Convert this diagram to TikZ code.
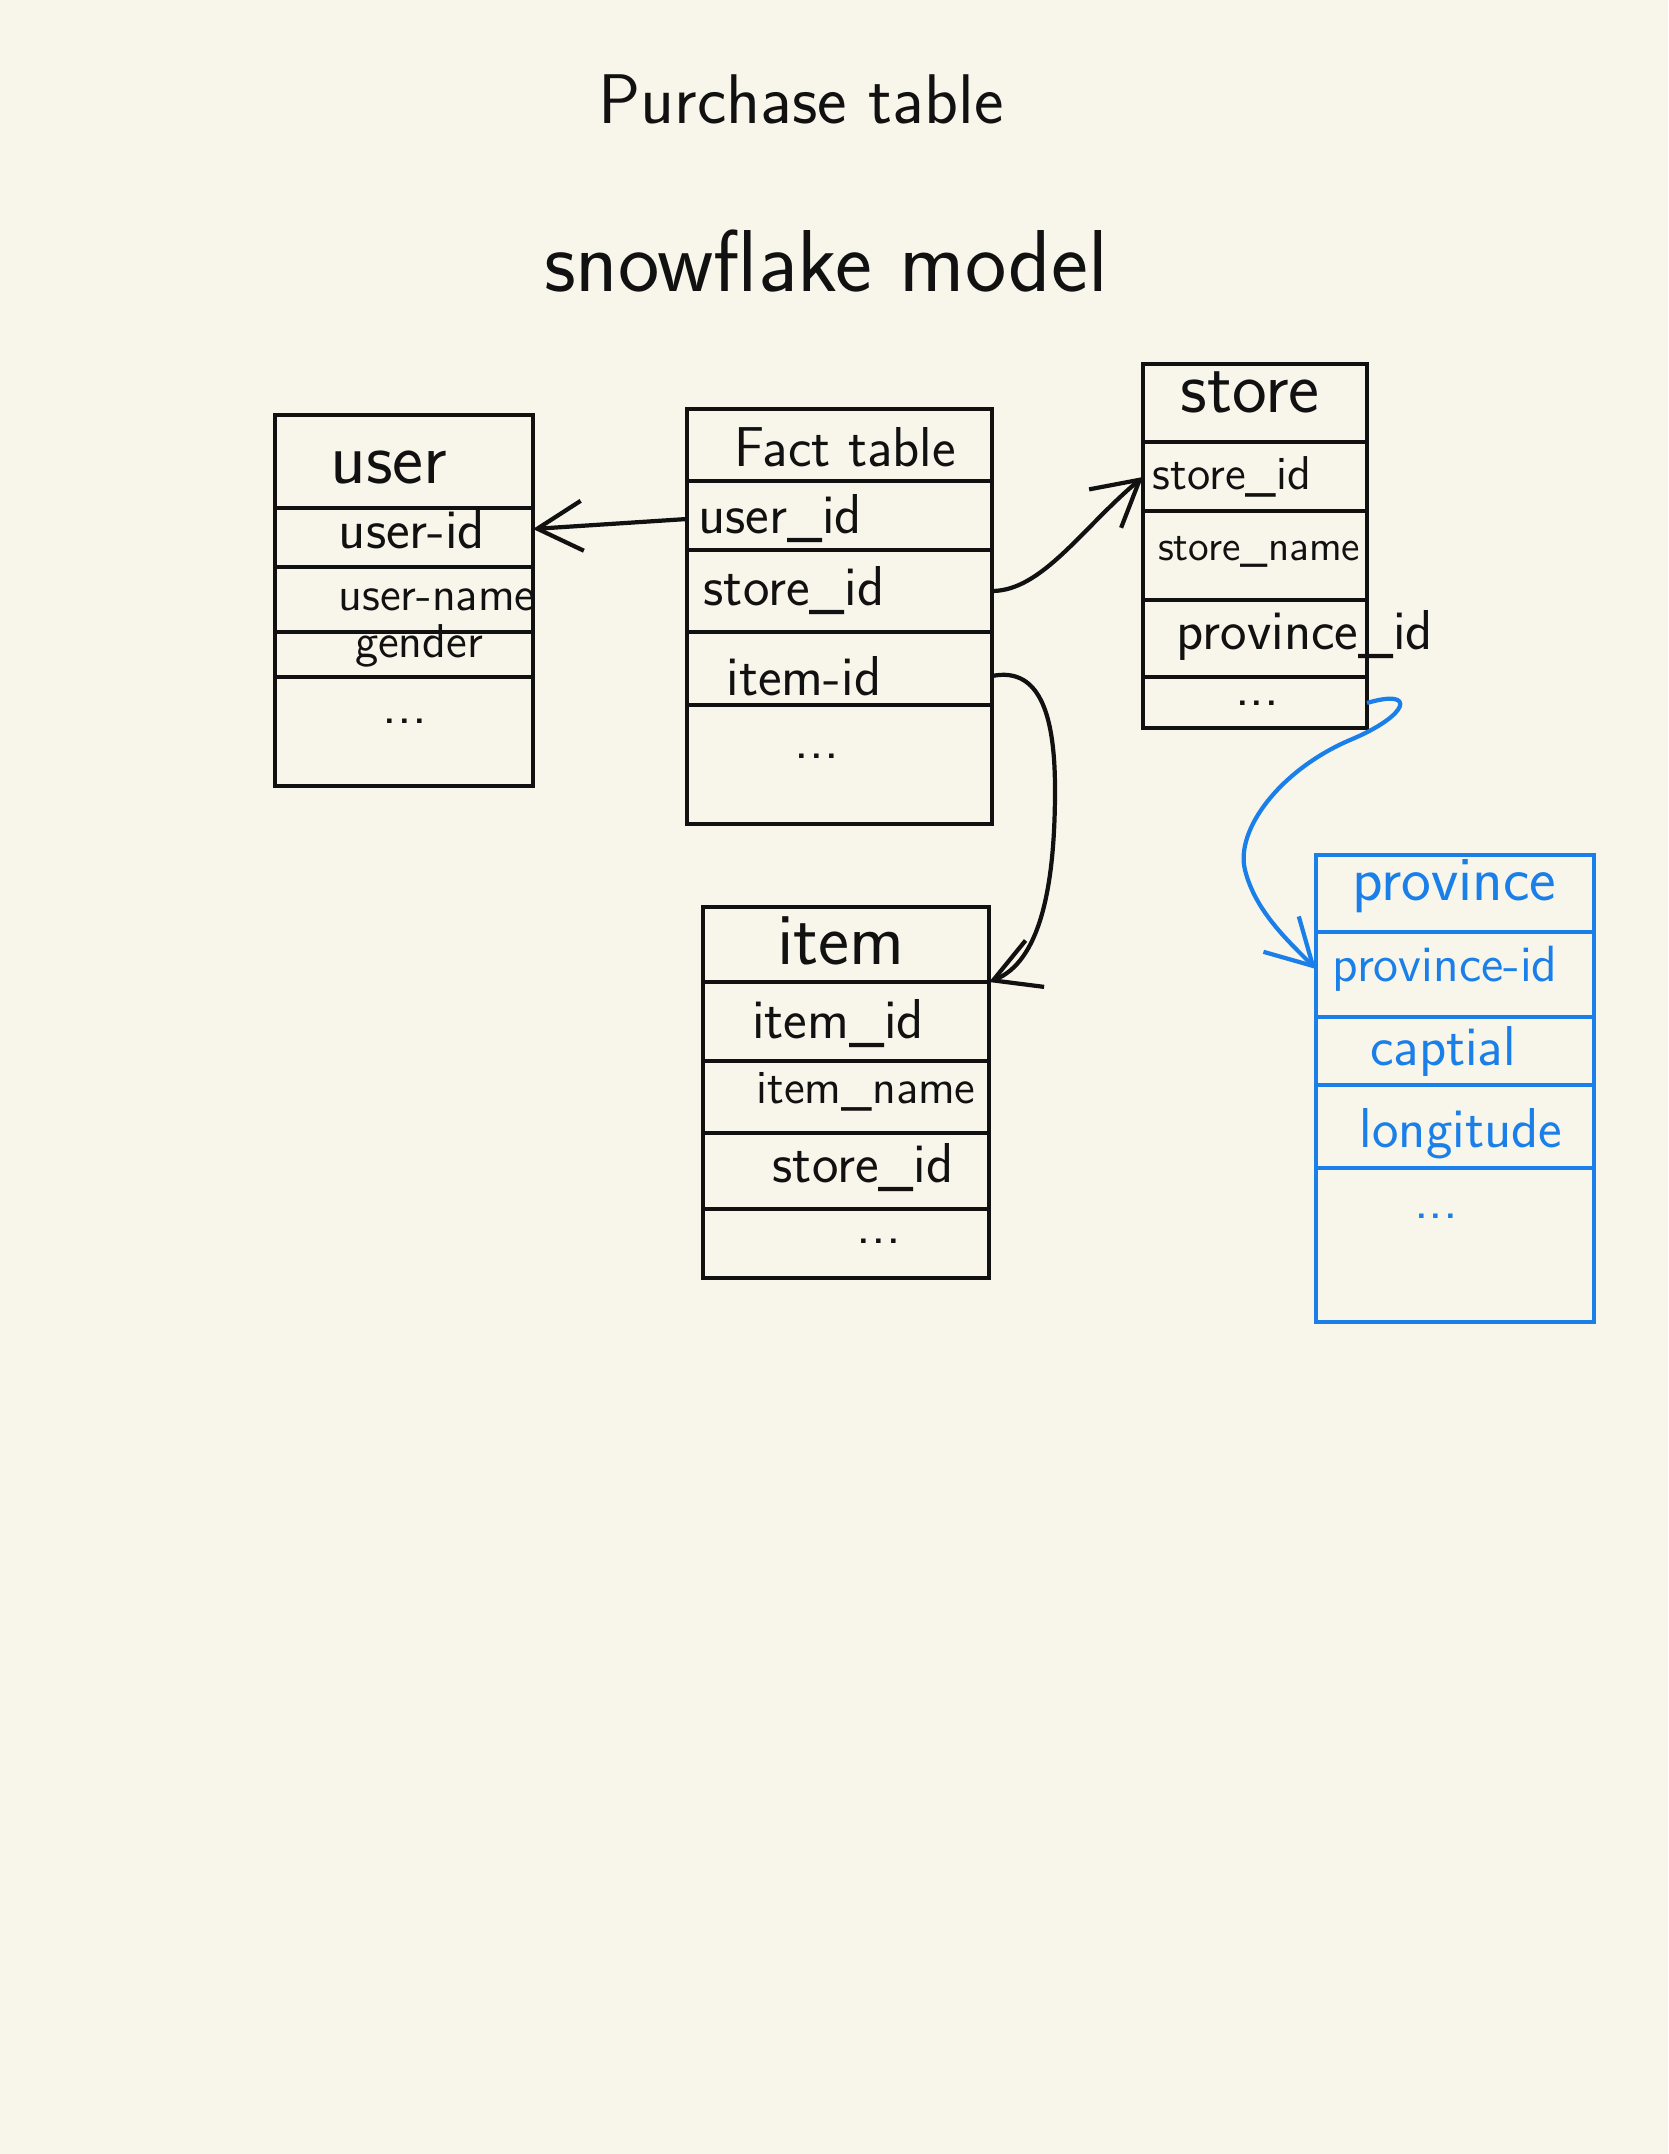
\documentclass[tikz,border=0pt]{standalone}
\usetikzlibrary{arrows.meta}

\definecolor{paper}{HTML}{F8F6EA}
\definecolor{pen}{HTML}{111111}
\definecolor{inkblue}{HTML}{1A7FE8}

\tikzset{
  tbl/.style={draw, line width=1.2pt, inner sep=0pt, outer sep=0pt, anchor=north west},
  rule/.style={line width=1.2pt},
  arr/.style={line width=1.2pt, -{Straight Barb[length=4.5mm,width=5mm]}},
  title/.style={font=\sffamily\fontsize{20}{24}\selectfont},
  bigtitle/.style={font=\sffamily\fontsize{25}{30}\selectfont},
  tabhead/.style={font=\sffamily\fontsize{21}{25}\selectfont},
  field/.style={font=\sffamily\fontsize{16}{19}\selectfont},
  narrow/.style={font=\sffamily\fontsize{13.5}{16}\selectfont}
}

\begin{document}
\begin{tikzpicture}[x=1cm,y=-1cm,color=pen]
\fill[paper] (0,0) rectangle (16.68,21.54);
\useasboundingbox (0,0) rectangle (16.68,21.54);

\node[title] (t1) at (8.01,0.99) {Purchase table};
\node[bigtitle] (t2) at (8.26,2.61) {snowflake model};

% user
\node[tbl, minimum width=2.58cm, minimum height=3.71cm] (user) at (2.75,4.15) {};
\foreach \y in {5.08,5.67,6.32,6.77} \draw[rule] (2.75,\y) -- (5.33,\y);
\node[tabhead] (u-head) at (3.89,4.67) {user};
\node[field] (u-id) at (4.12,5.29) {user-id};
\node[narrow] (u-name) at (4.37,6.00) {user-name};
\node[narrow] (u-gen) at (4.19,6.46) {gender};
\node[field] (u-dots) at (4.05,7.21) {...};

% fact table
\node[tbl, minimum width=3.05cm, minimum height=4.15cm] (fact) at (6.87,4.09) {};
\foreach \y in {4.81,5.50,6.32,7.05} \draw[rule] (6.87,\y) -- (9.92,\y);
\node[field] (f-head) at (8.45,4.47) {Fact table};
\node[field] (f-uid) at (7.80,5.19) {user\_id};
\node[field] (f-sid) at (7.94,5.91) {store\_id};
\node[field] (f-iid) at (8.04,6.76) {item-id};
\node[field] (f-dots) at (8.17,7.56) {...};

% store
\node[tbl, minimum width=2.24cm, minimum height=3.64cm] (store) at (11.43,3.64) {};
\foreach \y in {4.42,5.11,6.00,6.77} \draw[rule] (11.43,\y) -- (13.67,\y);
\node[tabhead] (s-head) at (12.50,3.92) {store};
\node[narrow] (s-sid) at (12.32,4.77) {store\_id};
\node[narrow, font=\sffamily\fontsize{12}{14}\selectfont] (s-name) at (12.59,5.52) {store\_name};
\node[field] (s-prov) at (13.05,6.35) {province\_id};
\node[field] (s-dots) at (12.57,7.03) {...};

% item
\node[tbl, minimum width=2.86cm, minimum height=3.71cm] (item) at (7.03,9.07) {};
\foreach \y in {9.82,10.61,11.33,12.09} \draw[rule] (7.03,\y) -- (9.89,\y);
\node[tabhead] (i-head) at (8.41,9.41) {item};
\node[field] (i-id) at (8.38,10.24) {item\_id};
\node[narrow] (i-name) at (8.66,10.92) {item\_name};
\node[field] (i-sid) at (8.63,11.68) {store\_id};
\node[field] (i-dots) at (8.79,12.41) {...};

% province
\begin{scope}[color=inkblue]
\node[tbl, minimum width=2.78cm, minimum height=4.67cm] (prov) at (13.16,8.55) {};
\foreach \y in {9.32,10.17,10.85,11.68} \draw[rule] (13.16,\y) -- (15.94,\y);
\node[tabhead, font=\sffamily\fontsize{18}{22}\selectfont] (p-head) at (14.54,8.86) {province};
\node[narrow, font=\sffamily\fontsize{14.5}{17}\selectfont] (p-id) at (14.45,9.69) {province-id};
\node[field] (p-cap) at (14.43,10.51) {captial};
\node[field] (p-lon) at (14.61,11.34) {longitude};
\node[field] (p-dots) at (14.36,12.16) {...};
\end{scope}

% links
\draw[arr] (fact.west |- f-uid) -- (user.east |- u-id);
\draw[arr] (fact.east |- f-sid) .. controls +(0.5,0) and +(-0.6,0.5) .. (store.west |- s-sid);
\draw[arr] (fact.east |- f-iid) .. controls +(0.5,-0.1) and +(0,-0.7) .. (10.55,7.9)
  .. controls +(0,1) and +(0.5,-0.2) .. ([yshift=-7.5mm]item.north east);
\draw[arr, inkblue] (store.east |- s-dots) .. controls +(0.5,-0.15) and +(0.6,-0.25) .. (13.5,7.4)
  .. controls +(-0.7,0.3) and +(-0.1,-0.4) .. (12.45,8.7)
  .. controls +(0.1,0.4) and +(-0.3,-0.3) .. (prov.west |- p-id);
\end{tikzpicture}
\end{document}
